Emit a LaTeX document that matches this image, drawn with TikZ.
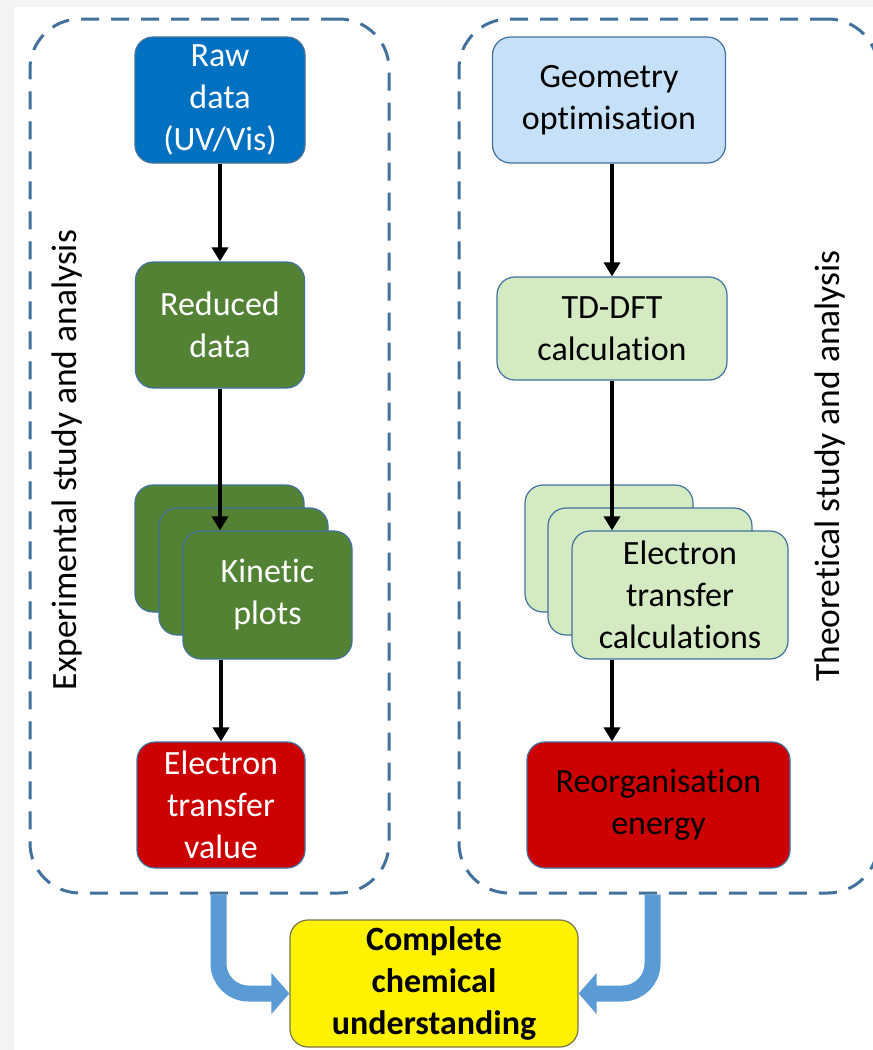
\documentclass[tikz,border=0pt]{standalone}
\usepackage{fontspec}
\setmainfont{Carlito}[Ligatures=NoCommon]
\usetikzlibrary{arrows.meta}

\definecolor{dashblue}{RGB}{65,113,156}
\definecolor{rawblue}{RGB}{0,112,192}
\definecolor{darkgreen}{RGB}{84,130,53}
\definecolor{paleblue}{RGB}{197,224,247}
\definecolor{palegreen}{RGB}{211,234,194}
\definecolor{boxred}{RGB}{204,0,0}
\definecolor{flowblue}{RGB}{91,155,213}
\definecolor{pagegray}{RGB}{243,244,246}

\begin{document}
\begin{tikzpicture}[x=1pt, y=-1pt,
    every node/.style={font=\fontsize{34}{42}\selectfont, align=center, inner sep=0pt},
    box/.style={draw=dashblue, line width=1.2pt, rounded corners=18pt},
    group/.style={draw=dashblue, line width=3pt, dash pattern=on 18pt off 12pt, rounded corners=50pt},
    flow/.style={line width=3.5pt, -{Triangle[length=14pt,width=16pt]}},
    bigflow/.style={flowblue, line width=16pt, rounded corners=30pt, -{Triangle[length=18pt,width=40pt]}}]
    \useasboundingbox (0,0) rectangle (873,1050);
    \clip (0,0) rectangle (873,1050);
    \fill[pagegray] (0,0) rectangle (873,1050);
    \fill[white] (14,7) rectangle (873,1050);

    % the two study groups
    \node[group, minimum width=359pt, minimum height=874pt] (exp) at (209.5,456) {};
    \node[group, minimum width=419pt, minimum height=874pt] (theo) at (668.5,456) {};
    \node[rotate=90, font=\fontsize{35.5}{42}\selectfont] (explabel) at (67,460) {Experimental study and analysis};
    \node[rotate=90, font=\fontsize{35.5}{42}\selectfont] (theolabel) at (830,466) {Theoretical study and analysis};

    % experimental side
    \node[box, fill=rawblue, text=white, minimum width=170pt, minimum height=126pt] (raw) at (220,100) {Raw\\data\\(UV/Vis)};
    \node[box, fill=darkgreen, text=white, minimum width=169pt, minimum height=126pt] (reduced) at (220,325) {Reduced\\data};
    \foreach \i in {0,1} {
        \node[box, fill=darkgreen, minimum width=169pt, minimum height=127pt] (kin\i) at (219.5+24*\i,548.5+23*\i) {};
    }
    \node[box, fill=darkgreen, text=white, minimum width=169pt, minimum height=128pt] (kinetic) at (267.5,595) {Kinetic\\plots};
    \node[box, fill=boxred, text=white, minimum width=168pt, minimum height=126pt] (etvalue) at (221,805) {Electron\\transfer\\value};

    % theoretical side
    \node[box, fill=paleblue, minimum width=233pt, minimum height=126pt] (geom) at (609,100) {Geometry\\optimisation};
    \node[box, fill=palegreen, minimum width=230pt, minimum height=103pt] (tddft) at (612,328.5) {TD-DFT\\calculation};
    \node[box, fill=palegreen, minimum width=168pt, minimum height=127pt] (calc0) at (609,548.5) {};
    \node[box, fill=palegreen, minimum width=204pt, minimum height=127pt] (calc1) at (650,571.5) {};
    \node[box, fill=palegreen, minimum width=216pt, minimum height=128pt] (etcalc) at (680,595) {Electron\\transfer\\calculations};
    \node[box, fill=boxred, minimum width=263pt, minimum height=126pt] (reorg) at (658.5,805) {Reorganisation\\energy};

    \node[box, draw=black!60!yellow, fill=yellow, font=\fontsize{34}{42}\selectfont\bfseries, minimum width=288pt, minimum height=127pt] (goal) at (434,983.5) {Complete\\chemical\\understanding};

    % arrows
    \draw[flow] (raw.south) -- (reduced.north);
    \draw[flow] (reduced.south) -- (reduced.south |- kinetic.north);
    \draw[flow] (kinetic.south -| etvalue.north) -- (etvalue.north);
    \draw[flow] (geom.south -| tddft.north) -- (tddft.north);
    \draw[flow] (tddft.south) -- (tddft.south |- etcalc.north);
    \draw[flow] (etcalc.south -| tddft.south) -- (reorg.north -| tddft.south);
    \draw[bigflow] (exp.south) ++(9,0) |- ([yshift=-10pt]goal.west);
    \draw[bigflow] (theo.south) ++(-16,0) |- ([yshift=-10pt]goal.east);
\end{tikzpicture}
\end{document}
